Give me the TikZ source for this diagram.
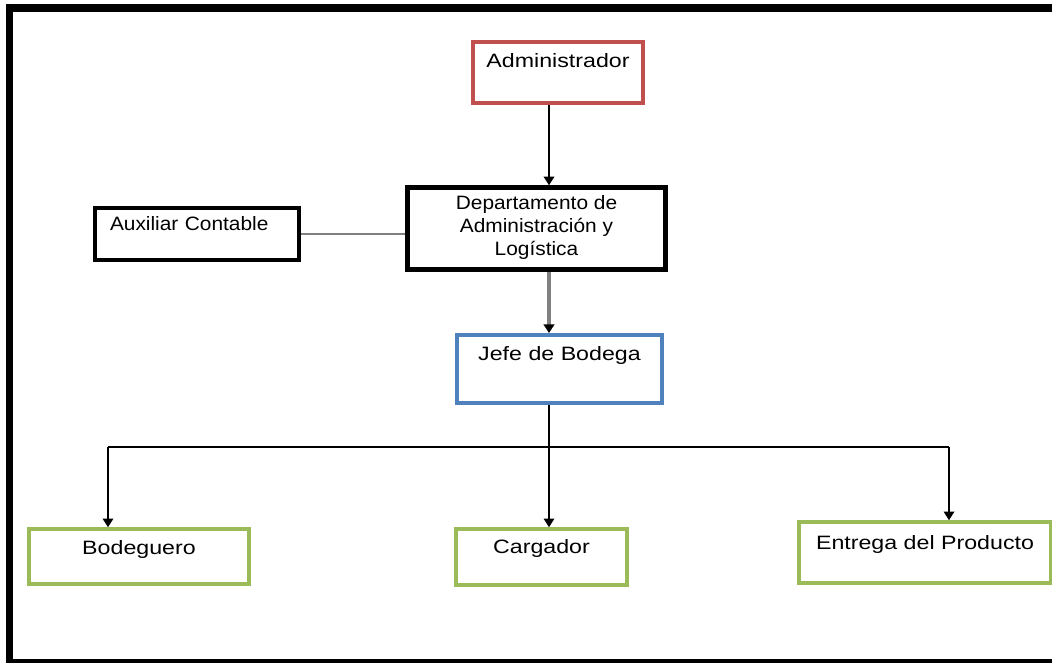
\documentclass[tikz,border=0pt]{standalone}
\usepackage{fontspec}
\setmainfont[FakeStretch=1.2]{Liberation Sans}
\newfontfamily\narrowsans[FakeStretch=1.08]{Liberation Sans}
\usepackage{tikz}
\usetikzlibrary{arrows.meta,calc,positioning}

\definecolor{boxred}{HTML}{C0504D}
\definecolor{boxblue}{HTML}{4F81BD}
\definecolor{boxgreen}{HTML}{9BBB59}
\definecolor{linegray}{HTML}{808080}

\tikzset{
    cargo/.style={draw,line width=2.7pt,inner sep=3pt,text height=10.5pt,
        font=\fontsize{14.5}{17}\selectfont},
    arr/.style={line width=1.1pt,-{Triangle[width=8pt,length=6.5pt]}}
}

\begin{document}
\begin{tikzpicture}[x=0.75pt,y=-0.75pt]
    \useasboundingbox (0,0) rectangle (1052,663);
    \draw[line width=5.6pt] (1060,8) -- (9.5,8) -- (9.5,663) -- (1060,663);

    \node[cargo,boxred,text=black,line width=3pt,minimum width=127.5pt,minimum height=45.75pt,text depth=17.25pt]
        (admin) at (558,72.5) {Administrador};
    \node[cargo,line width=3.4pt,minimum width=193.5pt,minimum height=61.5pt,text height=44.5pt,text depth=4.5pt,
        align=center,font=\narrowsans\fontsize{14.5}{17}\selectfont]
        (depto) at (536.5,228.5) {Departamento de\\Administración y\\Logística};
    \node[cargo,text width=130.5pt,inner xsep=11.25pt,align=left,minimum height=39pt,text depth=16.5pt,
        font=\narrowsans\fontsize{14.5}{17}\selectfont]
        (auxiliar) at (197,234) {Auxiliar Contable};
    \node[cargo,boxblue,text=black,line width=3pt,minimum width=153.75pt,minimum height=51pt,text depth=24pt]
        (jefe) at (559.5,369) {Jefe de Bodega};
    \node[cargo,boxgreen,text=black,minimum width=165pt,minimum height=41.25pt,text depth=14.25pt]
        (bodeguero) at (139,556.5) {Bodeguero};
    \node[cargo,boxgreen,text=black,minimum width=128.25pt,minimum height=42pt,text depth=16.5pt]
        (cargador) at (541.5,557) {Cargador};
    \node[cargo,boxgreen,text=black,minimum width=189pt,minimum height=45.75pt,text depth=15.75pt]
        (entrega) at (925,552.5) {Entrega del Producto};

    \coordinate (trunk) at (549,447);
    \coordinate (izq) at (108,447);
    \coordinate (der) at (949,447);

    \draw[arr] (admin.south -| trunk) -- (depto.north -| trunk);
    \draw[linegray,line width=2.2pt] (auxiliar.east) -- (auxiliar.east -| depto.west);
    \draw[linegray,line width=2.4pt,-{Triangle[width=8pt,length=6.5pt,color=black]}]
        (depto.south -| trunk) -- (jefe.north -| trunk);
    \draw[line width=1pt] (jefe.south -| trunk) -- (trunk);
    \draw[line width=1pt] (izq) -- (der);
    \draw[arr,line width=1pt] (izq) -- (izq |- bodeguero.north);
    \draw[arr,line width=1pt] (trunk) -- (cargador.north -| trunk);
    \draw[arr,line width=1pt] (der) -- (der |- entrega.north);
\end{tikzpicture}
\end{document}
